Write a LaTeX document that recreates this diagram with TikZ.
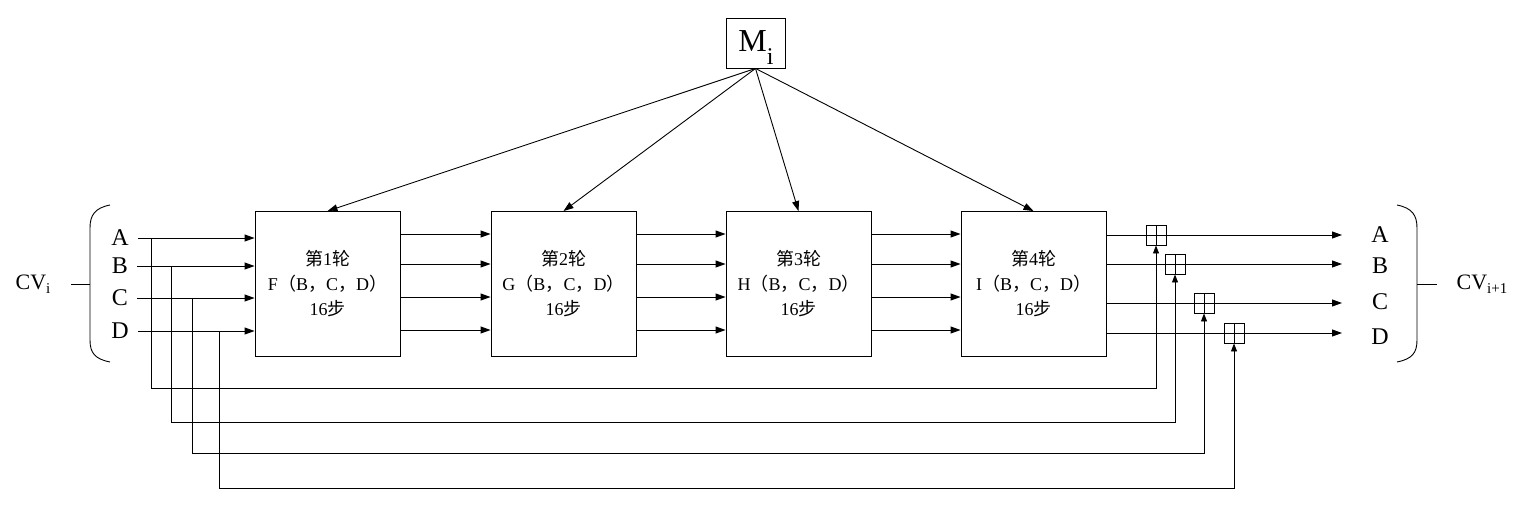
\documentclass[tikz,border=0pt]{standalone}
\usepackage{fontspec}
\setmainfont{Liberation Serif}
\newfontfamily\cjk{Noto Sans CJK SC}
\usetikzlibrary{arrows.meta}
\newcommand\lowsub[3]{\raisebox{-#2pt}{\fontsize{#1}{#1}\selectfont #3}}
\begin{document}
\begin{tikzpicture}[x=1pt,y=-1pt, line width=0.9pt,
  rbox/.style={draw, minimum width=145pt, minimum height=145pt, inner sep=0pt, align=center, font=\fontsize{18}{25}\selectfont},
  lbl/.style={font=\fontsize{24}{26}\selectfont, inner sep=0pt},
  cvl/.style={font=\fontsize{22}{24}\selectfont, inner sep=0pt},
  addbox/.style={draw, fill=white, minimum size=20pt, inner sep=0pt,
    path picture={\draw (path picture bounding box.north) -- (path picture bounding box.south)
      (path picture bounding box.west) -- (path picture bounding box.east);}},
  arr/.style={-{Triangle[length=10pt,width=7pt]}},
  sarr/.style={-{Triangle[length=8pt,width=6pt]}},
]
\useasboundingbox (0,0) rectangle (1519,504);

% rounds
\node[rbox] (r1) at (327.5,284) {{\cjk 第}1{\cjk 轮}\\F{\cjk （}B{\cjk ，}C{\cjk ，}D{\cjk ）}\\16{\cjk 步}};
\node[rbox] (r2) at (563.5,284) {{\cjk 第}2{\cjk 轮}\\G{\cjk （}B{\cjk ，}C{\cjk ，}D{\cjk ）}\\16{\cjk 步}};
\node[rbox] (r3) at (798.5,284) {{\cjk 第}3{\cjk 轮}\\H{\cjk （}B{\cjk ，}C{\cjk ，}D{\cjk ）}\\16{\cjk 步}};
\node[rbox] (r4) at (1033.5,284) {{\cjk 第}4{\cjk 轮}\\I{\cjk （}B{\cjk ，}C{\cjk ，}D{\cjk ）}\\16{\cjk 步}};

% message block
\node[draw, minimum width=59pt, minimum height=50pt, inner sep=0pt] (M) at (755.5,43) {};
\node[font=\fontsize{32}{34}\selectfont, inner sep=0pt] (Mt) at (756,48) {M\lowsub{24}{13}{i}};
\foreach \r in {r1,r2,r3,r4} \draw[arr] (M.south) -- (\r.north);

% input labels
\node[lbl] (iA) at (120,238) {A};
\node[lbl] (iB) at (120,266) {B};
\node[lbl] (iC) at (120,298) {C};
\node[lbl] (iD) at (120,331) {D};
\node[cvl] (cvi) at (33,284) {CV\lowsub{15}{4}{i}};

% left brace
\draw (110,205) .. controls (95,208) and (90,215) .. (90,228) -- (90,340) .. controls (90,353) and (95,359) .. (110,362);
\draw (71,284) -- (90,284);

% input arrows
\foreach \n in {A,B,C,D} \draw[arr] ([xshift=9pt]i\n.east) -- (i\n -| r1.west);

% arrows between rounds
\foreach \a/\b in {r1/r2,r2/r3,r3/r4}
  \foreach \y in {234,264,297,330}
    \draw[arr] (\a.east |- 0,\y) -- (\b.west |- 0,\y);

% adders
\node[addbox] (pA) at (1156,235) {};
\node[addbox] (pB) at (1175,264) {};
\node[addbox] (pC) at (1204,303) {};
\node[addbox] (pD) at (1234,333) {};

% output labels
\node[lbl] (oA) at (1380,235) {A};
\node[lbl] (oB) at (1380,266) {B};
\node[lbl] (oC) at (1380,302) {C};
\node[lbl] (oD) at (1380,337) {D};
\node[cvl] (cvo) at (1482,284) {CV\lowsub{15}{4}{i+1}};

% outputs
\foreach \n in {A,B,C,D} {
  \draw (r4.east |- p\n) -- (p\n.west);
  \draw[arr] (p\n.east) -- (1342,0 |- p\n);
}

% right brace
\draw (1397,205) .. controls (1412,208) and (1417,215) .. (1417,228) -- (1417,340) .. controls (1417,353) and (1412,359) .. (1397,362);
\draw (1417,284) -- (1437,284);

% feed-forward lines
\draw[sarr] (151,238) |- (pA.south |- 0,388) -- (pA.south);
\draw[sarr] (171,266) |- (pB.south |- 0,422) -- (pB.south);
\draw[sarr] (192,298) |- (pC.south |- 0,453) -- (pC.south);
\draw[sarr] (219,331) |- (pD.south |- 0,488) -- (pD.south);
\end{tikzpicture}
\end{document}
